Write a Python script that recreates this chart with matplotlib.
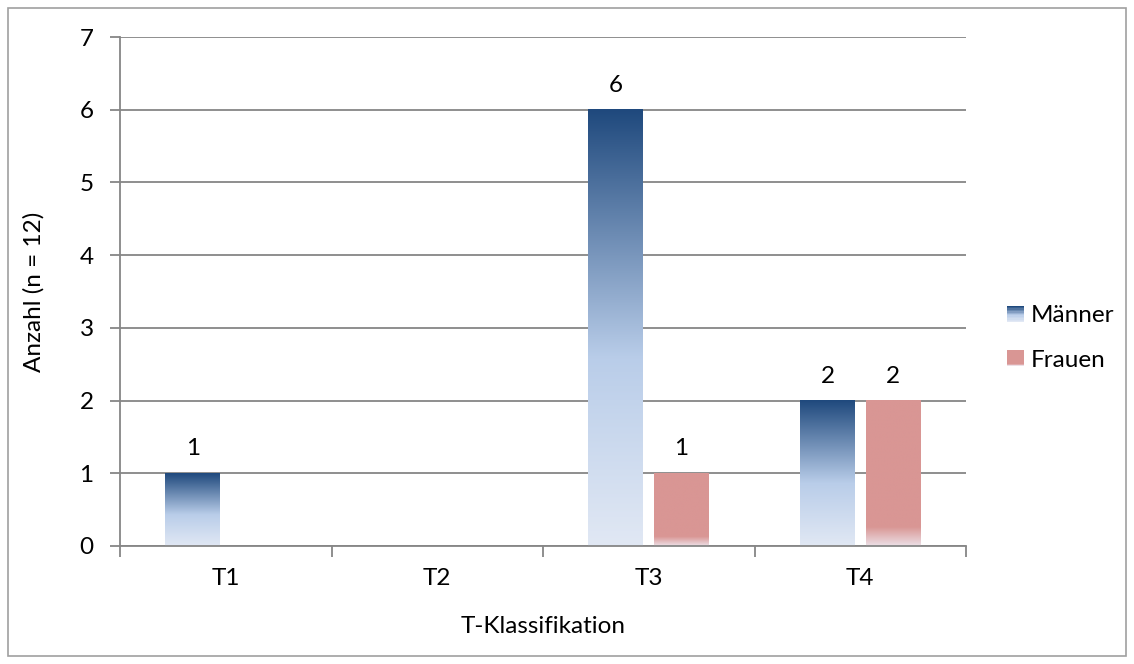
import numpy as np
import matplotlib.pyplot as plt
from matplotlib.colors import LinearSegmentedColormap
from matplotlib.patches import Rectangle
from matplotlib.legend_handler import HandlerBase

categories = ["T1", "T2", "T3", "T4"]
maenner = [1, 0, 6, 2]
frauen = [0, 0, 1, 2]
series_names = ["Männer", "Frauen"]

plt.rcParams['font.family'] = ['Lato', 'DejaVu Sans']
fs = 17.5

# gradients as seen in the original (top -> bottom)
blue_grad = LinearSegmentedColormap.from_list(
    "blue", [(0.0, "#1f497d"), (0.57, "#b9cde9"), (1.0, "#e1e8f4")])
red_grad = LinearSegmentedColormap.from_list(
    "red", [(0.0, "#d99694"), (0.87, "#d99694"), (1.0, "#ecdfe6")])

grid_col = "#868686"
bar_w = 0.26
offset = 0.155

fig = plt.figure(figsize=(11.34, 6.64), dpi=100)
ax = fig.add_axes([120 / 1134, 1 - 546 / 664, 846 / 1134, 509 / 664])

# figure border
fig.patches.append(Rectangle((8 / 1134, 8 / 664), 1118 / 1134, 648 / 664,
                             transform=fig.transFigure, fill=False,
                             edgecolor="#a0a0a0", linewidth=1.2))

grad = np.linspace(0, 1, 256).reshape(-1, 1)


def grad_bar(x, h, cmap):
    if h <= 0:
        return
    ax.imshow(grad, cmap=cmap, aspect="auto", extent=[x - bar_w / 2, x + bar_w / 2, 0, h],
              origin="upper", zorder=3, interpolation="bilinear")
    ax.annotate(str(h), (x, h), xytext=(0, 10), textcoords="offset points",
                ha="center", va="bottom", fontsize=fs)


x = np.arange(len(categories))
for i in range(len(categories)):
    grad_bar(x[i] - offset, maenner[i], blue_grad)
    grad_bar(x[i] + offset, frauen[i], red_grad)

ax.set_xlim(-0.5, 3.5)
ax.set_ylim(0, 7)
ax.set_yticks(range(8))
ax.set_xticks(x)
ax.set_xticklabels(categories)
ax.set_xticks(np.arange(-0.5, 4, 1), minor=True)
ax.tick_params(axis="x", which="major", length=0, pad=16, labelsize=fs)
ax.tick_params(axis="x", which="minor", length=8, color=grid_col, width=1.3)
ax.tick_params(axis="y", length=7, color=grid_col, width=1.3, pad=12, labelsize=fs)
ax.grid(axis="y", color=grid_col, linewidth=1.3, zorder=1)
ax.set_axisbelow(True)
for s in ["top", "right"]:
    ax.spines[s].set_visible(False)
for s in ["left", "bottom"]:
    ax.spines[s].set_color(grid_col)
    ax.spines[s].set_linewidth(1.3)
ax.spines["bottom"].set_zorder(4)

ax.set_xlabel("T-Klassifikation", fontsize=fs, labelpad=19)
ax.set_ylabel("Anzahl (n = 12)", fontsize=fs, labelpad=25)


class GradHandler(HandlerBase):
    def __init__(self, cmap):
        super().__init__()
        self.cmap = cmap

    def create_artists(self, legend, orig_handle, xdescent, ydescent, width, height, fontsize, trans):
        n = 12
        arts = []
        for k in range(n):
            c = self.cmap(k / (n - 1))
            arts.append(Rectangle((-xdescent, -ydescent + height * (1 - (k + 1) / n)), width, height / n,
                                  facecolor=c, edgecolor="none", transform=trans))
        return arts


h1 = Rectangle((0, 0), 1, 1)
h2 = Rectangle((0, 0), 1, 1)
fig.legend([h1, h2], series_names, handler_map={h1: GradHandler(blue_grad), h2: GradHandler(red_grad)},
           loc="center left", bbox_to_anchor=(1007 / 1134, 1 - 338 / 664), frameon=False, fontsize=fs,
           borderpad=0, borderaxespad=0,
           handlelength=0.68, handleheight=0.68, labelspacing=0.95, handletextpad=0.3)

fig.savefig("out.png", dpi=100)
